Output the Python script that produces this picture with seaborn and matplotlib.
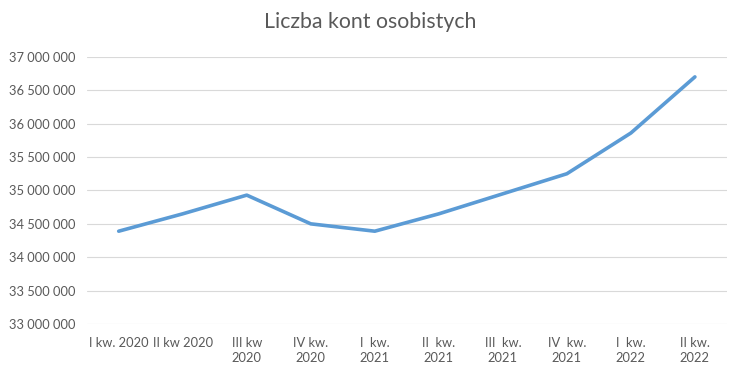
import numpy as np
import pandas as pd
import matplotlib
matplotlib.use("Agg")
import matplotlib.pyplot as plt
from matplotlib.ticker import FuncFormatter, MultipleLocator
import seaborn as sns

# Data
quarters = ["I kw. 2020", "II kw 2020", "III kw\n2020", "IV kw.\n2020", "I  kw.\n2021",
            "II  kw.\n2021", "III  kw.\n2021", "IV  kw.\n2021", "I  kw.\n2022", "II kw.\n2022"]
accounts = [34390000, 34650000, 34930000, 34500000, 34390000,
            34650000, 34950000, 35250000, 35860000, 36700000]

df = pd.DataFrame({"kwartal": quarters, "konta": accounts})

sns.set_style("white")
plt.rcParams['font.family'] = ['Lato', 'DejaVu Sans']

fig = plt.figure(figsize=(7.41, 3.79), dpi=100)
ax = fig.add_axes([0.117, 0.145, 0.864, 0.705])

sns.lineplot(data=df, x="kwartal", y="konta", sort=False, ax=ax,
             color="#5B9BD5", linewidth=2.6, solid_capstyle="round")

ax.set_ylim(33000000, 37000000)
ax.set_xlim(-0.5, len(quarters) - 0.5)
ax.yaxis.set_major_locator(MultipleLocator(500000))
ax.yaxis.set_major_formatter(FuncFormatter(lambda v, p: f"{int(v):,}".replace(",", " ")))
ax.grid(axis="y", color="#D9D9D9", linewidth=0.8)
ax.set_axisbelow(True)
for s in ["top", "right", "left", "bottom"]:
    ax.spines[s].set_visible(False)

ax.set_xlabel("")
ax.set_ylabel("")
ax.tick_params(axis="both", length=0, labelsize=9.3, labelcolor="#595959")
ax.tick_params(axis="x", pad=9)
ax.tick_params(axis="y", pad=8)
for lbl in ax.get_xticklabels():
    lbl.set_linespacing(1.35)

fig.text(0.5, 0.942, "Liczba kont osobistych", ha="center", va="center",
         fontsize=15.3, color="#595959")

fig.savefig("out.png", dpi=100)
